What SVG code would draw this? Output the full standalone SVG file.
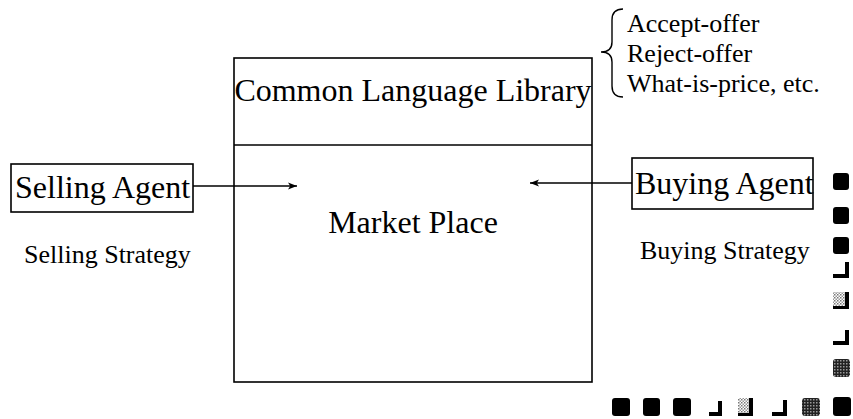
<svg xmlns="http://www.w3.org/2000/svg" width="853" height="419" viewBox="0 0 853 419">
  <defs>
    <style>
      .box { fill: none; stroke: #000; stroke-width: 1.6; }
      .big { font-family: "Liberation Serif", "Times New Roman", serif; font-size: 32px; fill: #000; }
      .mid { font-family: "Liberation Serif", "Times New Roman", serif; font-size: 26px; fill: #000; }
      .conn { stroke: #000; stroke-width: 1.4; fill: none; }
      .mark { fill: #000; }
    </style>
    <marker id="arrow" viewBox="0 0 10 10" refX="10" refY="5" markerWidth="9" markerHeight="9" markerUnits="userSpaceOnUse" orient="auto">
      <path d="M0,1 L10,5 L0,9 L2.5,5 Z" fill="#000"/>
    </marker>
    <pattern id="dots" width="3" height="3" patternUnits="userSpaceOnUse">
      <rect width="3" height="3" fill="#fff"/>
      <rect width="1.5" height="1.5" fill="#777"/>
      <rect x="1.5" y="1.5" width="1.5" height="1.5" fill="#999"/>
    </pattern>
    <pattern id="darkdots" width="3" height="3" patternUnits="userSpaceOnUse">
      <rect width="3" height="3" fill="#222"/>
      <rect width="1.5" height="1.5" fill="#999"/>
    </pattern>
  </defs>

  <rect width="853" height="419" fill="#fff"/>

  <!-- Central market place with the shared language library on top -->
  <g id="market-place">
    <rect class="box" x="234" y="58" width="358" height="324"/>
    <line class="box" x1="234" y1="145" x2="592" y2="145"/>
    <text class="big" x="413" y="233" text-anchor="middle">Market Place</text>
  </g>
  <g id="common-language-library">
    <text class="big" x="413" y="101" text-anchor="middle">Common Language Library</text>
  </g>

  <!-- Library vocabulary -->
  <g id="library-messages">
    <path class="conn" d="M623,9 Q612,9 612,20 L612,42 Q612,52 601,52 Q612,52 612,62 L612,86 Q612,97 623,97"/>
    <text class="mid" x="627" y="32">Accept-offer</text>
    <text class="mid" x="627" y="62">Reject-offer</text>
    <text class="mid" x="627" y="92">What-is-price, etc.</text>
  </g>

  <g id="selling-agent">
    <rect class="box" x="11" y="164" width="182" height="48"/>
    <text class="big" x="15" y="198">Selling Agent</text>
    <text class="mid" x="24" y="263">Selling Strategy</text>
  </g>

  <g id="buying-agent">
    <rect class="box" x="632" y="158" width="181" height="51"/>
    <text class="big" x="635" y="194">Buying Agent</text>
    <text class="mid" x="640" y="259">Buying Strategy</text>
  </g>

  <g id="connectors">
    <line class="conn" x1="193" y1="186" x2="297" y2="186" marker-end="url(#arrow)"/>
    <line class="conn" x1="632" y1="183" x2="530" y2="183" marker-end="url(#arrow)"/>
  </g>

  <!-- Registration marks along the right and bottom edges -->
  <g id="edge-marks">
    <rect class="mark" x="833" y="173" width="16" height="17" rx="3"/>
    <rect class="mark" x="833" y="207" width="16" height="17" rx="3"/>
    <rect class="mark" x="833" y="237" width="16" height="17" rx="3"/>
    <path class="mark" d="M845,262 h4 v16 h-16 v-4 h12 Z"/>
    <rect x="833" y="292" width="16" height="17" fill="url(#dots)"/>
    <path class="mark" d="M845,292 h4 v17 h-16 v-3 h12 Z"/>
    <path class="mark" d="M845,330 h4 v15 h-16 v-4 h12 Z"/>
    <rect x="833" y="359" width="17" height="18" rx="3" fill="url(#darkdots)"/>
    <rect class="mark" x="833" y="397" width="18" height="19" rx="3"/>

    <rect class="mark" x="612" y="398" width="18" height="18" rx="3"/>
    <rect class="mark" x="643" y="398" width="17" height="18" rx="3"/>
    <rect class="mark" x="673" y="398" width="18" height="18" rx="3"/>
    <path class="mark" d="M718,401 h4 v15 h-13 v-4 h9 Z"/>
    <rect x="738" y="398" width="15" height="18" fill="url(#dots)"/>
    <path class="mark" d="M749,398 h4 v18 h-15 v-3 h11 Z"/>
    <path class="mark" d="M783,400 h4 v16 h-15 v-4 h11 Z"/>
    <rect x="802" y="398" width="18" height="18" rx="3" fill="url(#darkdots)"/>
  </g>
</svg>
